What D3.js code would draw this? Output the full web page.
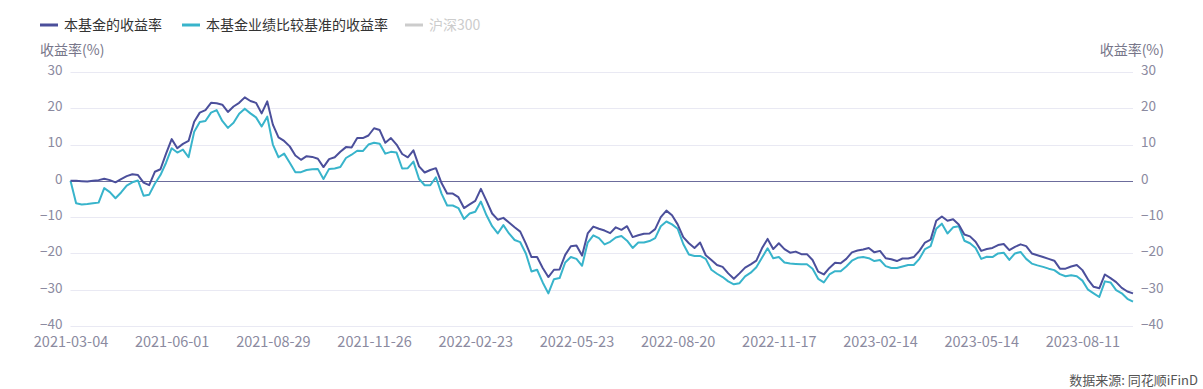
<!DOCTYPE html>
<html>
<head>
<meta charset="utf-8">
<script src="https://cdn.jsdelivr.net/npm/d3@7"></script>
<style>
  body { margin: 0; background: #fff; }
  svg text { font-family: "Microsoft YaHei", "Noto Sans CJK SC", sans-serif; }
</style>
</head>
<body>
<div class="layout"></div>
<script>

// tick labels on the x axis, one every 18 points
const tickLabels = ["2021-03-04", "2021-06-01", "2021-08-29", "2021-11-26", "2022-02-23",
  "2022-05-23", "2022-08-20", "2022-11-17", "2023-02-14", "2023-05-14", "2023-08-11"]
const tickStep = 18

const yTicks = [30, 20, 10, 0, -10, -20, -30, -40]

const seriesNames = ["本基金的收益率", "本基金业绩比较基准的收益率", "沪深300"]

// 本基金的收益率 (%)
const fundValues = [
  0, 0, -0.1, -0.2, 0, 0.2, 0.6, 0.2, -0.4, 0.5,
  1.3, 1.8, 1.6, -0.5, -1.2, 2.5, 3.2, 7.5, 11.5, 9.0,
  10.2, 11.0, 16.3, 18.8, 19.5, 21.5, 21.4, 21.0, 19.0, 20.5,
  21.5, 23.0, 22.0, 21.5, 18.6, 21.9, 15.5, 12.0, 11.0, 9.5,
  7.0, 5.8, 6.8, 6.6, 6.1, 3.8, 6.0, 6.5, 8.0, 9.3,
  9.2, 11.8, 11.8, 12.5, 14.5, 14.0, 10.5, 11.8, 10.0, 7.4,
  6.5, 8.4, 4.0, 2.3, 3.0, 3.5, -0.6, -3.5, -3.5, -4.5,
  -7.5, -6.5, -5.5, -2.2, -5.5, -9.0, -10.7, -10.2, -11.5, -12.8,
  -14.0, -17.3, -21.0, -21.0, -24.0, -26.5, -24.5, -24.4, -20.4, -18.0,
  -17.8, -20.6, -14.5, -12.6, -13.2, -13.7, -14.4, -12.8, -13.5, -12.5,
  -15.5, -15.0, -14.6, -14.5, -13.3, -10.0, -8.2, -9.5, -12.0, -15.5,
  -17.2, -18.5, -17.0, -20.5, -21.8, -23.2, -23.7, -25.5, -27.0, -25.5,
  -23.9, -23.0, -22.0, -18.6, -16.0, -18.8, -17.2, -18.8, -19.8, -19.5,
  -20.2, -20.2, -21.8, -25.0, -25.8, -24.0, -22.6, -22.7, -21.5, -19.7,
  -19.2, -18.9, -18.5, -19.7, -19.3, -21.3, -21.6, -22.1, -21.4, -21.4,
  -21.0, -19.3, -17.0, -16.2, -11.0, -9.8, -11.0, -10.6, -12.0, -14.8,
  -15.3, -16.8, -19.3, -18.8, -18.5, -17.7, -17.4, -19.1, -18.2, -17.5,
  -18.0, -20.0, -20.5, -21.0, -21.5, -22.0, -24.2, -24.2, -23.6, -23.2,
  -24.6, -27.2, -29.2, -29.6, -25.8, -26.8, -27.9, -29.5, -30.5, -31.0
]

// 本基金业绩比较基准的收益率 (%)
const benchValues = [
  0, -6.2, -6.5, -6.4, -6.2, -6.0, -2.0, -3.1, -4.8, -3.2,
  -1.3, -0.4, 0.1, -4.1, -3.8, -0.8, 1.6, 5.0, 9.0, 7.8,
  8.6, 6.5, 13.5, 16.2, 16.5, 18.8, 19.5, 16.5, 14.6, 16.0,
  18.5, 19.9, 18.6, 17.5, 15.0, 17.7, 10.0, 6.5, 7.5, 5.0,
  2.4, 2.4, 3.0, 3.2, 3.3, 0.5, 3.3, 3.4, 3.8, 6.3,
  7.2, 8.3, 8.2, 10.0, 10.5, 10.2, 7.5, 8.0, 7.8, 3.4,
  3.5, 5.3, 0.5, -1.2, -1.2, 1.0, -3.5, -6.8, -6.8, -7.5,
  -10.5, -9.0, -8.5, -5.7, -9.5, -12.5, -14.5, -12.2, -14.5, -16.3,
  -16.9, -20.0, -25.0, -24.5, -28.0, -31.0, -27.1, -26.8, -22.5, -21.0,
  -21.5, -23.4, -17.0, -15.0, -15.8, -17.5, -16.8, -15.6, -15.2, -16.5,
  -18.5, -17.0, -17.0, -16.6, -15.8, -12.5, -11.2, -12.0, -13.2, -17.4,
  -20.3, -20.7, -20.7, -21.5, -24.5, -25.6, -26.5, -27.7, -28.5, -28.2,
  -26.3, -25.3, -23.8, -21.2, -18.6, -21.3, -21.0, -22.5, -22.8, -22.9,
  -23.0, -23.0, -24.2, -27.0, -28.0, -25.8, -24.9, -24.9, -23.6, -22.0,
  -21.2, -21.0, -21.3, -22.1, -21.8, -23.5, -24.0, -24.0, -23.6, -23.2,
  -23.2, -21.5, -18.8, -18.0, -13.2, -11.8, -14.5, -12.8, -12.5, -16.5,
  -17.2, -18.5, -21.5, -20.9, -21.0, -20.0, -19.8, -21.8, -20.0, -19.6,
  -21.5, -22.8, -23.3, -23.7, -24.2, -24.6, -25.7, -26.3, -26.0, -26.3,
  -27.5, -30.0, -31.0, -32.0, -27.7, -28.0, -30.1, -31.0, -32.5, -33.3
]

const colors = ["#4b4f9b", "#38b4cb", "#cccccc"]

function makeChart() {
  var width = 1203
  var height = 389
  var left = 70.5
  var right = 1133
  var top = 72
  var bottom = 326

  var svg = d3.select("div.layout")
    .append("svg")
      .attr("width", width)
      .attr("height", height)

  const x = d3.scaleLinear()
    .domain([0, fundValues.length - 1])
    .range([left, right])

  const y = d3.scaleLinear()
    .domain([-40, 30])
    .range([bottom, top])

  // grid lines
  svg.append("g")
    .selectAll("line")
    .data(yTicks)
    .enter()
    .append("line")
    .attr("x1", left)
    .attr("x2", right)
    .attr("y1", function (d) { return Math.round(y(d)) + 0.5 })
    .attr("y2", function (d) { return Math.round(y(d)) + 0.5 })
    .attr("stroke", function (d) { return d === 0 ? "#6c6c9c" : "#e9e9f3" })
    .attr("stroke-width", 1)

  // left and right axis labels
  var yLeft = d3.axisLeft(y).tickValues(yTicks).tickSize(0).tickPadding(8)
  var yRight = d3.axisRight(y).tickValues(yTicks).tickSize(0).tickPadding(8)

  svg.append("g")
    .attr("class", "yAxis")
    .attr("transform", "translate(" + left + ", -2)")
    .call(yLeft)

  svg.append("g")
    .attr("class", "yAxis")
    .attr("transform", "translate(" + right + ", -2)")
    .call(yRight)

  // x axis with the date labels
  var xAxis = d3.axisBottom(x)
    .tickValues(tickLabels.map(function (d, i) { return i * tickStep }))
    .tickFormat(function (d, i) { return tickLabels[i] })
    .tickSize(0)
    .tickPadding(9)

  svg.append("g")
    .attr("class", "xAxis")
    .attr("transform", "translate(0, " + (bottom + 2) + ")")
    .call(xAxis)

  svg.selectAll("g.yAxis, g.xAxis").select(".domain").remove()
  svg.selectAll("g.yAxis text, g.xAxis text")
    .attr("fill", "#8b8aa0")
    .style("font-size", "13.5px")
  svg.selectAll("g.xAxis text")
    .style("font-size", "14.5px")

  // the two lines
  const line = d3.line()
    .x(function (d, i) { return x(i) })
    .y(function (d) { return y(d) })

  svg.append("path")
    .datum(benchValues)
    .attr("d", line)
    .attr("fill", "none")
    .attr("stroke", colors[1])
    .attr("stroke-width", 2)
    .attr("stroke-linejoin", "round")

  svg.append("path")
    .datum(fundValues)
    .attr("d", line)
    .attr("fill", "none")
    .attr("stroke", colors[0])
    .attr("stroke-width", 2)
    .attr("stroke-linejoin", "round")

  // axis titles
  svg.append("text")
    .attr("x", 40)
    .attr("y", 55)
    .attr("fill", "#77768a")
    .style("font-size", "14px")
    .text("收益率(%)")

  svg.append("text")
    .attr("x", 1164)
    .attr("y", 55)
    .attr("text-anchor", "end")
    .attr("fill", "#77768a")
    .style("font-size", "14px")
    .text("收益率(%)")

  // legend
  var legendX = [40, 182, 405]
  var legend = svg.selectAll("g.legend")
    .data(seriesNames)
    .enter()
    .append("g")
    .attr("class", "legend")
    .attr("transform", function (d, i) { return "translate(" + legendX[i] + ", 25)" })

  legend.append("line")
    .attr("x1", 0)
    .attr("x2", 18)
    .attr("stroke", function (d, i) { return colors[i] })
    .attr("stroke-width", 3)

  legend.append("text")
    .attr("x", 24)
    .attr("y", 5)
    .attr("fill", function (d, i) { return i === 2 ? "#cccccc" : "#333333" })
    .style("font-size", "14px")
    .text(function (d) { return d })

  // source
  svg.append("text")
    .attr("x", 1198)
    .attr("y", 385)
    .attr("text-anchor", "end")
    .attr("fill", "#555555")
    .style("font-size", "13px")
    .text("数据来源: 同花顺iFinD")
}

makeChart()
</script>
</body>
</html>
